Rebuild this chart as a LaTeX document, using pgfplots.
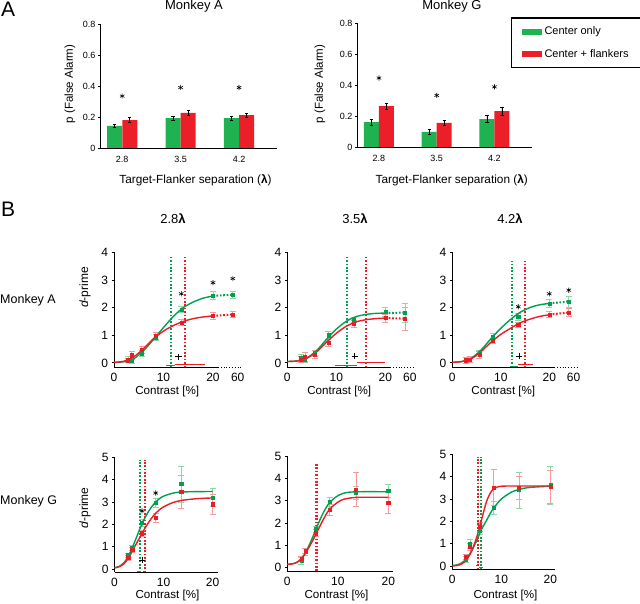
\documentclass[border=0pt]{standalone}
\usepackage{fontspec}
\setmainfont{Liberation Sans}
\usepackage{pgfplots}
\pgfplotsset{compat=1.18}
\definecolor{gr}{RGB}{30,178,80}
\definecolor{rd}{RGB}{236,30,40}
\definecolor{grc}{RGB}{0,160,80}
\definecolor{rdc}{RGB}{236,28,36}
\pgfplotsset{
 panA/.style={scale only axis, height=124pt, ymin=0, ymax=0.8, xmin=0.62, xmax=3.65,
   axis x line*=bottom, axis y line*=left, axis line style={-, line width=0.7pt},
   ytick={0,0.2,0.4,0.6,0.8}, yticklabels={0,0.2,0.4,0.6,0.8}, xtick={1,2,3}, xticklabels={2.8,3.5,4.2},
   tick align=outside, major tick length=2pt, x tick style={draw=none}, y tick style={black, line width=0.6pt},
   yticklabel style={font=\fontsize{9}{10}\selectfont, xshift=1pt},
   xticklabel style={font=\fontsize{9}{10}\selectfont, yshift=-3pt},
   /pgf/number format/assume math mode=true, clip=false},
 gbar/.style={ybar, bar width=15pt, bar shift=0pt, fill=gr, draw=none,
   error bars/.cd, y dir=both, y explicit, error bar style={black, line width=0.7pt},
   error mark options={rotate=90, black, mark size=1.6pt, line width=0.7pt}},
 rbar/.style={ybar, bar width=15pt, bar shift=0pt, fill=rd, draw=none,
   error bars/.cd, y dir=both, y explicit, error bar style={black, line width=0.7pt},
   error mark options={rotate=90, black, mark size=1.6pt, line width=0.7pt}},
 star/.style={only marks, mark=asterisk, mark size=2.6pt, black, line width=0.6pt},
 panB/.style={scale only axis, height=115pt, axis x line*=bottom, axis y line*=left,
   axis line style={-, line width=0.8pt}, xmin=0,
   tick align=outside, major tick length=2.5pt, x tick style={draw=none}, y tick style={line width=0.8pt, black},
   ticklabel style={font=\fontsize{12}{13}\selectfont},
   /pgf/number format/assume math mode=true, clip=false},
 row1/.style={panB, xmax=26, ymin=-0.16, ymax=4, ytick={0,1,2,3,4}, xtick={0,10,20,25}, xticklabels={0,10,20,60},
   x axis line style={draw=none}},
 row2/.style={panB, xmax=21, ymin=-0.15, ymax=5, ytick={0,1,2,3,4,5}, xtick={0,10,20}, xticklabels={0,10,20}},
 gpts/.style={only marks, mark=square*, mark size=1.6pt, color=grc,
   error bars/.cd, y dir=both, y explicit, error bar style={gr!50, line width=0.7pt},
   error mark options={rotate=90, gr!50, mark size=3pt, line width=0.7pt}},
 rpts/.style={only marks, mark=square*, mark size=1.6pt, color=rdc,
   error bars/.cd, y dir=both, y explicit, error bar style={rd!45, line width=0.7pt},
   error mark options={rotate=90, rd!45, mark size=3pt, line width=0.7pt}},
 gfit/.style={grc, line width=1.4pt, smooth, no marks},
 rfit/.style={rdc, line width=1.4pt, smooth, no marks},
 gdot/.style={grc, line width=2pt, dash pattern=on 1.7pt off 1.7pt, no marks},
 rdot/.style={rdc, line width=2pt, dash pattern=on 1.7pt off 1.7pt, no marks},
 gci/.style={grc, line width=1pt, no marks},
 rci/.style={rdc, line width=1pt, no marks},
 plus/.style={only marks, mark=+, mark size=3.2pt, black, line width=0.9pt},
}
\begin{document}
\begin{tikzpicture}[x=1pt,y=1pt]
\useasboundingbox (0,0) rectangle (640,603);
% ---------- Panel A ----------
\node[anchor=north west, inner sep=0pt, font=\fontsize{21}{22}\selectfont] at (1,601) {A};
\node[anchor=base, inner sep=0pt, font=\fontsize{13}{14}\selectfont] at (194,593.5) {Monkey A};
\node[anchor=base, inner sep=0pt, font=\fontsize{13}{14}\selectfont] at (452,593.5) {Monkey G};
\node[anchor=base, inner sep=0pt, font=\fontsize{11.8}{13}\selectfont] at (195.5,419) {Target-Flanker separation (\textbf{λ})};
\node[anchor=base, inner sep=0pt, font=\fontsize{11.8}{13}\selectfont] at (451.7,419) {Target-Flanker separation (\textbf{λ})};
\node[rotate=90, inner sep=0pt, font=\fontsize{11.5}{13}\selectfont] at (70,519) {p (False Alarm)};
\node[rotate=90, inner sep=0pt, font=\fontsize{11.5}{13}\selectfont] at (320,519) {p (False Alarm)};

\begin{axis}[panA, width=177pt, at={(100pt,455pt)}, anchor=south west]
\addplot[gbar] coordinates {(0.87,0.142) +- (0,0.012) (1.87,0.193) +- (0,0.013) (2.87,0.192) +- (0,0.013)};
\addplot[rbar] coordinates {(1.13,0.18) +- (0,0.016) (2.13,0.227) +- (0,0.015) (3.13,0.212) +- (0,0.012)};
\addplot[star] coordinates {(1,0.335) (2,0.39) (3,0.39)};
\end{axis}

\begin{axis}[panA, width=175pt, at={(357pt,456pt)}, anchor=south west,
  legend style={at={(0.88,1.045)}, anchor=north west, draw=black, line width=1.1pt,
    font=\fontsize{11}{12}\selectfont, inner xsep=10pt, inner ysep=7pt, row sep=9pt,
    /tikz/every odd column/.append style={column sep=1pt}},
  legend cell align=left]
\addplot[gbar, /pgfplots/legend image code/.code={\fill[gr] (0pt,-3pt) rectangle (20pt,3pt);}] coordinates {(0.87,0.16) +- (0,0.02) (1.87,0.097) +- (0,0.015) (2.87,0.18) +- (0,0.022)};
\addlegendentry{Center only}
\addplot[rbar, /pgfplots/legend image code/.code={\fill[rd] (0pt,-3pt) rectangle (20pt,3pt);}] coordinates {(1.13,0.264) +- (0,0.02) (2.13,0.156) +- (0,0.014) (3.13,0.232) +- (0,0.025)};
\addlegendentry{Center + flankers}
\addplot[star, forget plot] coordinates {(1,0.445) (2,0.333) (3,0.388)};
\end{axis}

% ---------- Panel B labels ----------
\node[anchor=north west, inner sep=0pt, font=\fontsize{21}{22}\selectfont] at (1,401) {B};
\node[font=\fontsize{13}{14}\selectfont, inner sep=0pt] at (173,384.7) {2.8\textbf{λ}};
\node[font=\fontsize{13}{14}\selectfont, inner sep=0pt] at (355,384.7) {3.5\textbf{λ}};
\node[font=\fontsize{13}{14}\selectfont, inner sep=0pt] at (510,384.7) {4.2\textbf{λ}};
\node[anchor=west, inner sep=0pt, font=\fontsize{12.5}{14}\selectfont] at (0,303) {Monkey A};
\node[anchor=west, inner sep=0pt, font=\fontsize{12.5}{14}\selectfont] at (0,101.3) {Monkey G};
\node[rotate=90, inner sep=0pt, font=\fontsize{12}{13}\selectfont] at (85,315.5) {\textit{d}-prime};
\node[rotate=90, inner sep=0pt, font=\fontsize{12}{13}\selectfont] at (85,95) {\textit{d}-prime};
\foreach \xx in {167.2,339.2,503.3} {\node[inner sep=0pt, font=\fontsize{11.6}{13}\selectfont] at (\xx,211.3) {Contrast [\%]};}
\foreach \xx in {167.5,336.5,505.5} {\node[inner sep=0pt, font=\fontsize{11.6}{13}\selectfont] at (\xx,7.5) {Contrast [\%]};}

% ---------- B1 ----------
\begin{axis}[row1, width=128.7pt, at={(114pt,235.7pt)}, anchor=south west]
\draw[line width=0.8pt] (axis cs:0,-0.16) -- (axis cs:21,-0.16);
\draw[line width=0.8pt, dotted] (axis cs:21,-0.16) -- (axis cs:26,-0.16);
\addplot[gdot] coordinates {(11.6,-0.16) (11.6,3.85)};
\addplot[rdot] coordinates {(14.3,-0.16) (14.3,3.85)};
\addplot[gci] coordinates {(10.6,-0.1) (12.3,-0.1)};
\addplot[rci] coordinates {(12.3,-0.05) (18.4,-0.05)};
\addplot[gpts] coordinates {(2.8,0.12) +- (0,0.1) (3.6,0.07) +- (0,0.08) (5.6,0.35) +- (0,0.12) (8.4,0.93) +- (0,0.1) (13.6,1.93) +- (0,0.12) (20,2.43) +- (0,0.15) (24,2.46) +- (0,0.12)};
\addplot[rpts] coordinates {(2.8,0.1) +- (0,0.08) (3.6,0.28) +- (0,0.15) (5.6,0.48) +- (0,0.13) (8.4,0.97) +- (0,0.12) (13.6,1.46) +- (0,0.1) (20,1.7) +- (0,0.13) (24,1.75) +- (0,0.12)};
\addplot[gfit] coordinates {(0,0.02) (2,0.04) (4,0.15) (6,0.45) (8,0.85) (10,1.28) (12,1.68) (14,2.0) (16,2.2) (18,2.34) (20,2.42)};
\addplot[rfit] coordinates {(0,0.02) (2,0.06) (4,0.22) (6,0.52) (8,0.88) (10,1.15) (12,1.35) (14,1.5) (16,1.6) (18,1.66) (20,1.7)};
\addplot[gdot] coordinates {(20,2.43) (24,2.46)};
\addplot[rdot] coordinates {(20,1.7) (24,1.75)};
\addplot[plus] coordinates {(13,0.22)};
\addplot[star] coordinates {(13.6,2.5) (20,2.9) (24,3.05)};
\end{axis}

% ---------- B2 ----------
\begin{axis}[row1, width=127.4pt, at={(287.3pt,235.7pt)}, anchor=south west]
\draw[line width=0.8pt] (axis cs:0,-0.16) -- (axis cs:21,-0.16);
\draw[line width=0.8pt, dotted] (axis cs:21,-0.16) -- (axis cs:26,-0.16);
\addplot[gdot] coordinates {(12.1,-0.16) (12.1,3.84)};
\addplot[rdot] coordinates {(16.0,-0.16) (16.0,3.84)};
\addplot[gci] coordinates {(9.7,-0.08) (14.3,-0.08)};
\addplot[rci] coordinates {(14.3,0.01) (20,0.01)};
\addplot[gpts] coordinates {(2.8,0.2) +- (0,0.12) (3.6,0.12) +- (0,0.1) (5.6,0.35) +- (0,0.12) (8.4,1.0) +- (0,0.15) (13.6,1.55) +- (0,0.1) (20,1.85) +- (0,0.15) (24,1.82) +- (0,0.35)};
\addplot[rpts] coordinates {(2.8,0.12) +- (0,0.1) (3.6,0.22) +- (0,0.15) (5.6,0.3) +- (0,0.15) (8.4,0.72) +- (0,0.12) (13.6,1.42) +- (0,0.12) (20,1.62) +- (0,0.15) (24,1.6) +- (0,0.42)};
\addplot[gfit] coordinates {(0,0.05) (2,0.07) (4,0.18) (6,0.45) (8,0.85) (10,1.22) (12,1.5) (14,1.67) (16,1.75) (18,1.79) (20,1.8)};
\addplot[rfit] coordinates {(0,0.05) (2,0.07) (4,0.17) (6,0.4) (8,0.75) (10,1.07) (12,1.32) (14,1.48) (16,1.56) (18,1.6) (20,1.62)};
\addplot[gdot] coordinates {(20,1.8) (24,1.82)};
\addplot[rdot] coordinates {(20,1.62) (24,1.6)};
\addplot[plus] coordinates {(13.8,0.24)};
\end{axis}

% ---------- B3 ----------
\begin{axis}[row1, width=126.1pt, at={(452.3pt,235.7pt)}, anchor=south west]
\draw[line width=0.8pt] (axis cs:0,-0.16) -- (axis cs:21,-0.16);
\draw[line width=0.8pt, dotted] (axis cs:21,-0.16) -- (axis cs:26,-0.16);
\addplot[gdot] coordinates {(12.4,-0.16) (12.4,3.68)};
\addplot[rdot] coordinates {(15.0,-0.16) (15.0,3.68)};
\addplot[gci] coordinates {(11.9,-0.12) (13.6,-0.12)};
\addplot[rci] coordinates {(13.6,-0.05) (16.7,-0.05)};
\addplot[gpts] coordinates {(2.8,0.1) +- (0,0.1) (3.6,0.12) +- (0,0.1) (5.6,0.35) +- (0,0.12) (8.4,0.95) +- (0,0.1) (13.6,1.67) +- (0,0.12) (20,2.15) +- (0,0.15) (24,2.22) +- (0,0.2)};
\addplot[rpts] coordinates {(2.8,0.1) +- (0,0.1) (3.6,0.12) +- (0,0.1) (5.6,0.3) +- (0,0.12) (8.4,0.8) +- (0,0.1) (13.6,1.37) +- (0,0.1) (20,1.75) +- (0,0.1) (24,1.82) +- (0,0.15)};
\addplot[gfit] coordinates {(0,0.02) (2,0.05) (4,0.18) (6,0.48) (8,0.88) (10,1.25) (12,1.57) (14,1.83) (16,2.0) (18,2.1) (20,2.15)};
\addplot[rfit] coordinates {(0,0.02) (2,0.05) (4,0.16) (6,0.42) (8,0.75) (10,1.03) (12,1.25) (14,1.45) (16,1.58) (18,1.68) (20,1.74)};
\addplot[gdot] coordinates {(20,2.15) (24,2.22)};
\addplot[rdot] coordinates {(20,1.75) (24,1.82)};
\addplot[plus] coordinates {(13.8,0.24)};
\addplot[star] coordinates {(13.6,2.03) (20,2.5) (24,2.63)};
\end{axis}

% ---------- B4 ----------
\begin{axis}[row2, width=103pt, at={(114.5pt,30.7pt)}, anchor=south west]
\addplot[gdot] coordinates {(5.1,-0.15) (5.1,4.9)};
\addplot[rdot] coordinates {(6.2,-0.15) (6.2,4.9)};
\addplot[gci] coordinates {(4.6,-0.1) (5.3,-0.1)};
\addplot[rci] coordinates {(5.8,-0.1) (6.4,-0.1)};
\addplot[gpts] coordinates {(2.8,0.62) +- (0,0.1) (3.6,0.95) +- (0,0.12) (5.6,2.07) +- (0,0.15) (8.4,2.95) +- (0,0.2) (13.6,3.8) +- (0,0.8) (20,3.2) +- (0,0.4)};
\addplot[rpts] coordinates {(2.8,0.5) +- (0,0.1) (3.6,0.85) +- (0,0.12) (5.6,1.6) +- (0,0.15) (8.4,2.3) +- (0,0.2) (13.6,3.45) +- (0,0.75) (20,2.9) +- (0,0.45)};
\addplot[gfit] coordinates {(0,0.05) (1,0.12) (2,0.3) (3,0.65) (4,1.15) (5,1.7) (6,2.2) (7,2.6) (8,2.9) (9,3.12) (10,3.26) (12,3.4) (14,3.45) (20,3.47)};
\addplot[rfit] coordinates {(0,0.05) (1,0.1) (2,0.25) (3,0.55) (4,0.95) (5,1.35) (6,1.75) (7,2.1) (8,2.4) (9,2.62) (10,2.78) (12,2.98) (14,3.08) (17,3.15) (20,3.18)};
\addplot[plus] coordinates {(5.6,0.4)};
\addplot[star] coordinates {(5.6,2.6) (8.4,3.4)};
\end{axis}

% ---------- B5 ----------
\begin{axis}[row2, width=106pt, at={(287.3pt,32pt)}, anchor=south west]
\addplot[gdot] coordinates {(5.7,-0.15) (5.7,4.7)};
\addplot[rdot] coordinates {(5.9,-0.15) (5.9,4.7)};
\addplot[gpts] coordinates {(2.8,0.3) +- (0,0.15) (3.6,0.7) +- (0,0.15) (5.6,1.72) +- (0,0.15) (8.4,2.95) +- (0,0.2) (13.6,3.35) +- (0,0.3) (20,3.45) +- (0,0.3)};
\addplot[rpts] coordinates {(2.8,0.4) +- (0,0.12) (3.6,0.75) +- (0,0.12) (5.6,1.57) +- (0,0.15) (8.4,2.6) +- (0,0.25) (13.6,3.5) +- (0,0.75) (20,2.9) +- (0,0.45)};
\addplot[gfit] coordinates {(0,0.15) (1,0.17) (2,0.25) (3,0.45) (4,0.85) (5,1.35) (6,1.9) (7,2.4) (8,2.8) (9,3.05) (10,3.22) (11,3.32) (12,3.37) (14,3.4) (20,3.4)};
\addplot[rfit] coordinates {(0,0.15) (1,0.17) (2,0.25) (3,0.45) (4,0.8) (5,1.2) (6,1.65) (7,2.1) (8,2.5) (9,2.75) (10,2.93) (11,3.05) (12,3.1) (14,3.15) (20,3.15)};
\end{axis}

% ---------- B6 ----------
\begin{axis}[row2, width=103pt, at={(452.3pt,33.7pt)}, anchor=south west]
\addplot[rdot] coordinates {(5.3,-0.15) (5.3,4.9)};
\addplot[gdot] coordinates {(5.8,-0.15) (5.8,4.9)};
\addplot[gci] coordinates {(5.5,-0.07) (6.3,-0.07)};
\addplot[rci] coordinates {(4.8,0.02) (5.4,0.02)};
\addplot[gpts] coordinates {(2.8,0.3) +- (0,0.15) (3.6,1.0) +- (0,0.2) (5.6,1.6) +- (0,0.2) (8.4,2.6) +- (0,0.3) (13.6,3.4) +- (0,0.8) (20,3.62) +- (0,0.85)};
\addplot[rpts] coordinates {(2.8,0.42) +- (0,0.12) (3.6,0.85) +- (0,0.15) (5.6,1.75) +- (0,0.2) (8.4,3.52) +- (0,0.8) (13.6,3.5) +- (0,0.5) (20,3.55) +- (0,0.75)};
\addplot[gfit] coordinates {(0,0.02) (1,0.05) (2,0.15) (3,0.35) (4,0.7) (5,1.15) (6,1.65) (7,2.05) (8,2.45) (9,2.75) (10,3.0) (12,3.3) (14,3.45) (16,3.52) (20,3.57)};
\addplot[rfit] coordinates {(0,0.0) (1,0.02) (2,0.1) (3,0.3) (4,0.7) (5,1.3) (6,2.1) (7,2.9) (8,3.35) (9,3.52) (10,3.57) (12,3.58) (20,3.58)};
\end{axis}
\end{tikzpicture}
\end{document}
